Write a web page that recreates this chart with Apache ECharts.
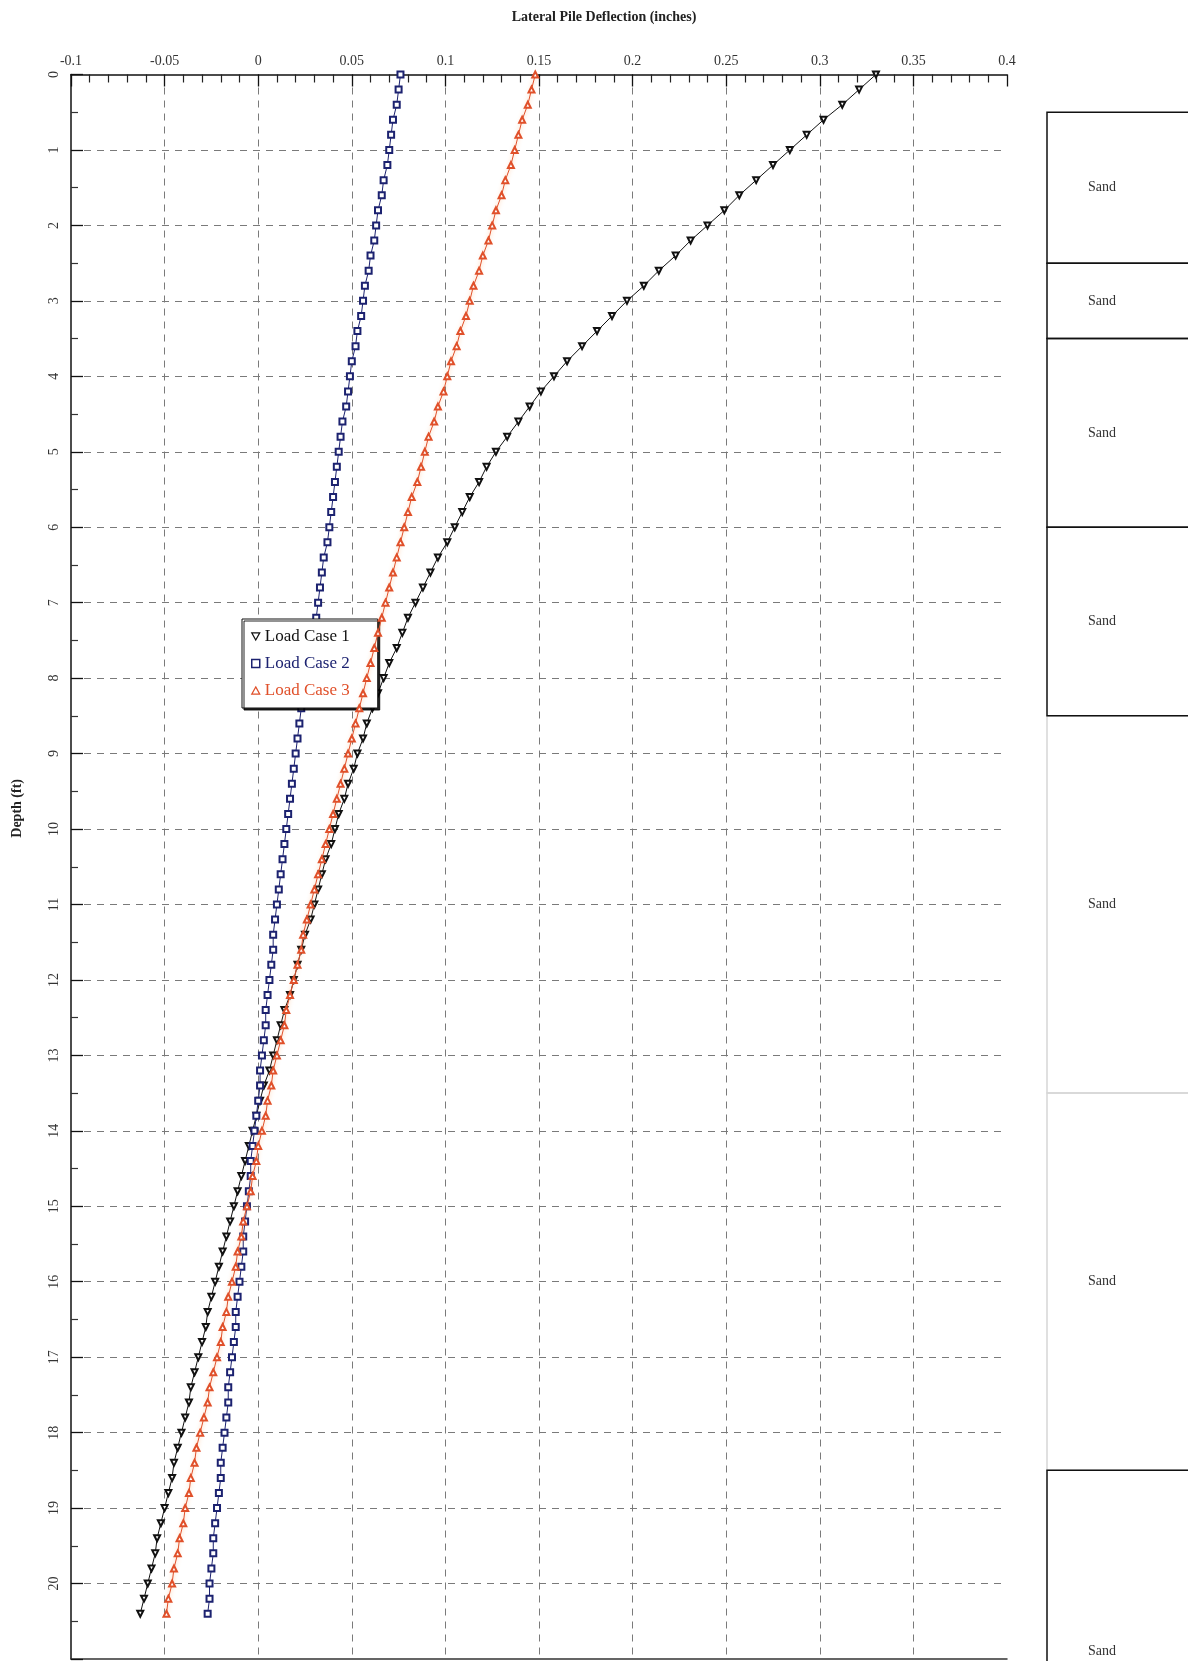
<!DOCTYPE html>
<html>
<head>
<meta charset="utf-8">
<script src="https://cdn.jsdelivr.net/npm/echarts@6/dist/echarts.min.js"></script>
<style>
html,body{margin:0;padding:0;background:#fff;}
#chart{width:1188px;height:1661px;}
</style>
</head>
<body>
<div id="chart"></div>
<script>
// ---------- data ----------
const depthFt = [0,0.2,0.4,0.6,0.8,1,1.2,1.4,1.6,1.8,2,2.2,2.4,2.6,2.8,3,3.2,3.4,3.6,3.8,4,4.2,4.4,4.6,4.8,5,5.2,5.4,5.6,5.8,6,6.2,6.4,6.6,6.8,7,7.2,7.4,7.6,7.8,8,8.2,8.4,8.6,8.8,9,9.2,9.4,9.6,9.8,10,10.2,10.4,10.6,10.8,11,11.2,11.4,11.6,11.8,12,12.2,12.4,12.6,12.8,13,13.2,13.4,13.6,13.8,14,14.2,14.4,14.6,14.8,15,15.2,15.4,15.6,15.8,16,16.2,16.4,16.6,16.8,17,17.2,17.4,17.6,17.8,18,18.2,18.4,18.6,18.8,19,19.2,19.4,19.6,19.8,20,20.2,20.4];

const loadCase1 = [0.330,0.321,0.312,0.302,0.293,0.284,0.275,0.266,0.257,0.249,0.240,0.231,0.223,0.214,0.206,0.197,0.189,0.181,0.173,0.165,0.158,0.151,0.145,0.139,0.133,0.127,0.122,0.118,0.113,0.109,0.105,0.101,0.096,0.092,0.088,0.084,0.080,0.077,0.074,0.070,0.067,0.064,0.061,0.058,0.056,0.053,0.051,0.048,0.046,0.043,0.041,0.039,0.036,0.034,0.032,0.030,0.028,0.025,0.023,0.021,0.019,0.017,0.014,0.012,0.010,0.008,0.006,0.003,0.001,-0.001,-0.003,-0.005,-0.007,-0.009,-0.011,-0.013,-0.015,-0.017,-0.019,-0.021,-0.023,-0.025,-0.027,-0.028,-0.030,-0.032,-0.034,-0.036,-0.037,-0.039,-0.041,-0.043,-0.045,-0.046,-0.048,-0.050,-0.052,-0.054,-0.055,-0.057,-0.059,-0.061,-0.063];

const loadCase2 = [0.076,0.075,0.074,0.072,0.071,0.070,0.069,0.067,0.066,0.064,0.063,0.062,0.060,0.059,0.057,0.056,0.055,0.053,0.052,0.050,0.049,0.048,0.047,0.045,0.044,0.043,0.042,0.041,0.040,0.039,0.038,0.037,0.035,0.034,0.033,0.032,0.031,0.030,0.028,0.027,0.025,0.024,0.023,0.022,0.021,0.020,0.019,0.018,0.017,0.016,0.015,0.014,0.013,0.012,0.011,0.010,0.009,0.008,0.008,0.007,0.006,0.005,0.004,0.004,0.003,0.002,0.001,0.001,0.000,-0.001,-0.002,-0.003,-0.004,-0.004,-0.005,-0.006,-0.007,-0.008,-0.008,-0.009,-0.010,-0.011,-0.012,-0.012,-0.013,-0.014,-0.015,-0.016,-0.016,-0.017,-0.018,-0.019,-0.020,-0.020,-0.021,-0.022,-0.023,-0.024,-0.024,-0.025,-0.026,-0.026,-0.027];

const loadCase3 = [0.148,0.146,0.144,0.141,0.139,0.137,0.135,0.132,0.130,0.127,0.125,0.123,0.120,0.118,0.115,0.113,0.111,0.108,0.106,0.103,0.101,0.099,0.096,0.094,0.091,0.089,0.087,0.085,0.082,0.080,0.078,0.076,0.074,0.072,0.070,0.068,0.066,0.064,0.062,0.060,0.058,0.056,0.054,0.052,0.050,0.048,0.046,0.044,0.042,0.040,0.038,0.036,0.034,0.032,0.030,0.028,0.026,0.024,0.023,0.021,0.019,0.017,0.015,0.014,0.012,0.010,0.008,0.007,0.005,0.004,0.002,0.000,-0.001,-0.003,-0.004,-0.006,-0.008,-0.009,-0.011,-0.012,-0.014,-0.016,-0.017,-0.019,-0.020,-0.022,-0.024,-0.026,-0.027,-0.029,-0.031,-0.033,-0.034,-0.036,-0.037,-0.039,-0.040,-0.042,-0.043,-0.045,-0.046,-0.048,-0.049];

const seriesNames = ['Load Case 1', 'Load Case 2', 'Load Case 3'];

// soil layers (depth ft)
const layerTop    = [0.5, 2.5, 3.5, 6.0, 8.5, 13.5, 18.5];
const layerBottom = [2.5, 3.5, 6.0, 8.5, 13.5, 18.5, 23.3];
const layerLabel  = ['Sand', 'Sand', 'Sand', 'Sand', 'Sand', 'Sand', 'Sand'];

const xTitle = 'Lateral Pile Deflection (inches)';
const yTitle = 'Depth (ft)';

// ---------- chart ----------
const SERIF = "'Liberation Serif','DejaVu Serif',serif";
const colors = ['#111111', '#1c2270', '#e0502a'];
const fadedLayers = [4, 5];

function pairs(vals) { return vals.map((v, i) => [v, depthFt[i]]); }

const layerRows = layerTop.map((t, i) => [t, layerBottom[i], layerLabel[i], fadedLayers.indexOf(i) >= 0 ? 1 : 0]);
// draw faded ones first so solid borders stay on top
layerRows.sort((a, b) => b[3] - a[3]);

const chart = echarts.init(document.getElementById('chart'), null, { renderer: 'canvas' });

const gridLine = { show: true, lineStyle: { type: [7, 6], color: '#7a7a7a', width: 1 } };

chart.setOption({
  backgroundColor: '#ffffff',
  animation: false,
  title: {
    text: xTitle,
    left: 599, top: 5, textAlign: 'center',
    textStyle: { fontFamily: SERIF, fontSize: 14, fontWeight: 'bold', color: '#222' }
  },
  grid: [
    { left: 71, right: 181, top: 74.5, bottom: 2, containLabel: false },
    { left: 1047, right: 0, top: 74.5, bottom: 2, containLabel: false }
  ],
  xAxis: [
    {
      type: 'value', gridIndex: 0, position: 'top', min: -0.1, max: 0.4, interval: 0.05,
      axisLine: { show: true, onZero: false, lineStyle: { color: '#111', width: 1.5 } },
      axisTick: { show: true, inside: true, length: 12, lineStyle: { color: '#111', width: 1.3 } },
      minorTick: { show: true, splitNumber: 5, length: 8, lineStyle: { color: '#222', width: 1.2 } },
      axisLabel: { fontFamily: SERIF, fontSize: 14, color: '#333', margin: 6 },
      splitLine: Object.assign({ showMinLine: false, showMaxLine: false }, gridLine)
    },
    {
      type: 'value', gridIndex: 0, position: 'bottom', min: -0.1, max: 0.4,
      axisLine: { show: true, onZero: false, lineStyle: { color: '#333', width: 1.5 } },
      axisTick: { show: false }, axisLabel: { show: false }, splitLine: { show: false }
    },
    {
      type: 'value', gridIndex: 1, min: 0, max: 1, show: false
    }
  ],
  yAxis: [
    {
      type: 'value', gridIndex: 0, inverse: true, min: 0, max: 21, interval: 1,
      axisLine: { show: true, onZero: false, lineStyle: { color: '#111', width: 1.5 } },
      axisTick: { show: true, inside: true, length: 12, lineStyle: { color: '#111', width: 1.3 } },
      minorTick: { show: true, splitNumber: 2, length: 7, lineStyle: { color: '#333', width: 1.2 } },
      axisLabel: { fontFamily: SERIF, fontSize: 14, color: '#333', rotate: 90, margin: 10, showMaxLabel: false },
      splitLine: Object.assign({ showMinLine: false, showMaxLine: false }, gridLine)
    },
    {
      type: 'value', gridIndex: 1, inverse: true, min: 0, max: 21, show: false
    }
  ],
  legend: {
    left: 242, top: 619, orient: 'vertical',
    backgroundColor: '#fff', borderColor: '#111', borderWidth: 1,
    shadowColor: 'rgba(0,0,0,0.85)', shadowOffsetX: 2, shadowOffsetY: 2, shadowBlur: 0,
    padding: [9, 28, 9, 9], itemGap: 10, itemWidth: 8, itemHeight: 8,
    textStyle: { fontFamily: SERIF, fontSize: 17 },
    data: [
      { name: seriesNames[0], icon: 'path://M0,0 L10,0 L5,9 Z', itemStyle: { color: '#fff', borderColor: colors[0], borderWidth: 1.2 }, textStyle: { color: colors[0] } },
      { name: seriesNames[1], icon: 'rect', itemStyle: { color: '#fff', borderColor: colors[1], borderWidth: 1.5 }, textStyle: { color: colors[1] } },
      { name: seriesNames[2], icon: 'path://M5,0 L10,9 L0,9 Z', itemStyle: { color: '#fff', borderColor: colors[2], borderWidth: 1.2 }, textStyle: { color: colors[2] } }
    ]
  },
  graphic: [
    {
      type: 'text', left: 10, top: 779, rotation: Math.PI / 2,
      style: { text: yTitle, font: 'bold 14px ' + SERIF, fill: '#222' }
    }
  ],
  series: [
    {
      name: seriesNames[0], type: 'line', xAxisIndex: 0, yAxisIndex: 0,
      data: pairs(loadCase1),
      symbol: 'emptyTriangle', symbolRotate: 180, symbolSize: 6,
      lineStyle: { color: colors[0], width: 1 },
      itemStyle: { color: colors[0], borderWidth: 1.2 },
      z: 3
    },
    {
      name: seriesNames[1], type: 'line', xAxisIndex: 0, yAxisIndex: 0,
      data: pairs(loadCase2),
      symbol: 'emptyRect', symbolSize: 6,
      lineStyle: { color: colors[1], width: 1 },
      itemStyle: { color: colors[1], borderWidth: 1.5 },
      z: 3
    },
    {
      name: seriesNames[2], type: 'line', xAxisIndex: 0, yAxisIndex: 0,
      data: pairs(loadCase3),
      symbol: 'emptyTriangle', symbolSize: 6,
      lineStyle: { color: colors[2], width: 1, shadowBlur: 4, shadowColor: 'rgba(255,150,70,0.7)' },
      itemStyle: { color: colors[2], borderWidth: 1.2 },
      z: 4
    },
    {
      name: 'soil', type: 'custom', xAxisIndex: 2, yAxisIndex: 1,
      clip: false, silent: true,
      data: layerRows,
      renderItem: function (params, api) {
        const top = api.value(0), bot = api.value(1);
        const row = layerRows[params.dataIndex];
        const faded = row[3] === 1;
        const p1 = api.coord([0, top]);
        const p2 = api.coord([2, bot]);
        return {
          type: 'group',
          children: [
            {
              type: 'rect',
              shape: { x: p1[0], y: p1[1], width: p2[0] - p1[0], height: p2[1] - p1[1] },
              style: { fill: 'none', stroke: faded ? '#d6d6d6' : '#111', lineWidth: 1.5 }
            },
            {
              type: 'text',
              style: {
                text: row[2], x: p1[0] + 55, y: (p1[1] + p2[1]) / 2,
                textAlign: 'center', textVerticalAlign: 'middle',
                font: '14px ' + SERIF, fill: '#333'
              }
            }
          ]
        };
      }
    }
  ]
});
</script>
</body>
</html>
